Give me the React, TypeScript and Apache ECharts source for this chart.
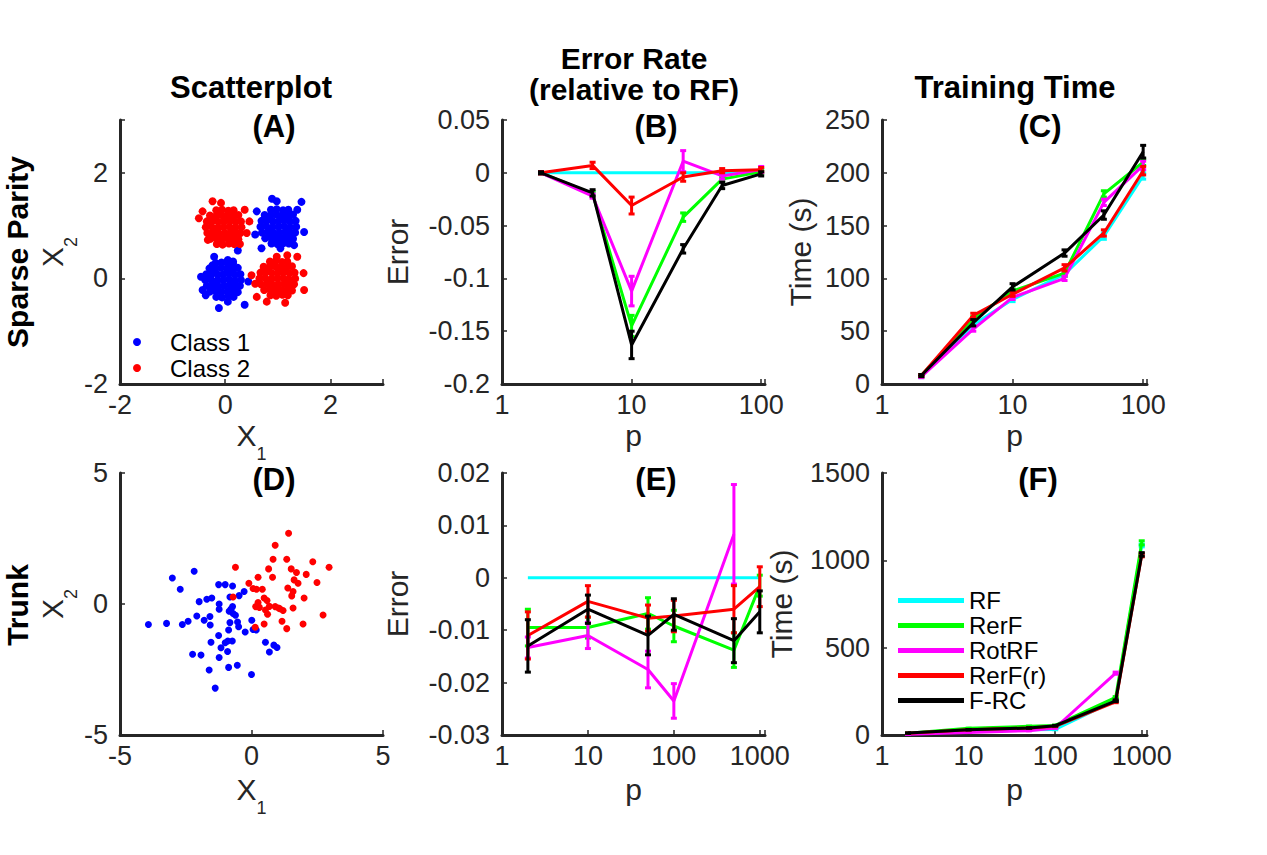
import React, { useEffect, useRef } from 'react';
import * as echarts from 'echarts';

const FONT = '"Liberation Sans", Arial, Helvetica, sans-serif';
const INK = '#262626';

// (A) sparse parity samples [X1, X2]
const parityClass1: number[][] = [
  // cluster around (1, 1)
  [0.87, 1.3], [0.98, 1.31], [1.1, 1.29], [1.2, 1.3],
  [0.75, 1.2], [0.86, 1.19], [0.97, 1.21], [1.08, 1.2], [1.19, 1.19], [1.29, 1.21],
  [0.69, 1.09], [0.8, 1.1], [0.91, 1.08], [1.02, 1.09], [1.13, 1.1], [1.24, 1.08], [1.34, 1.09],
  [0.67, 0.98], [0.78, 0.99], [0.9, 0.97], [1.01, 0.98], [1.12, 0.99], [1.23, 0.97], [1.35, 0.98],
  [0.7, 0.87], [0.81, 0.88], [0.92, 0.86], [1.03, 0.87], [1.14, 0.88], [1.25, 0.86], [1.33, 0.87],
  [0.76, 0.76], [0.87, 0.77], [0.98, 0.75], [1.09, 0.76], [1.2, 0.77], [1.29, 0.75],
  [0.88, 0.66], [0.99, 0.65], [1.11, 0.67], [1.21, 0.66],
  [0.89, 1.51], [1.45, 1.45], [0.6, 1.27], [1.37, 1.3], [1.5, 0.88], [0.57, 0.83],
  [0.69, 0.57], [1.05, 0.57], [1.31, 0.63], [0.98, 1.46],
  // cluster around (0, 0)
  [-0.18, 0.29], [-0.07, 0.3], [0.05, 0.28], [0.15, 0.29],
  [-0.3, 0.19], [-0.19, 0.18], [-0.08, 0.2], [0.03, 0.19], [0.14, 0.18], [0.24, 0.2],
  [-0.36, 0.08], [-0.25, 0.09], [-0.14, 0.07], [-0.03, 0.08], [0.08, 0.09], [0.19, 0.07], [0.29, 0.08],
  [-0.38, -0.03], [-0.27, -0.02], [-0.15, -0.04], [-0.04, -0.03], [0.07, -0.02], [0.18, -0.04], [0.3, -0.03],
  [-0.35, -0.14], [-0.24, -0.13], [-0.13, -0.15], [-0.02, -0.14], [0.09, -0.13], [0.2, -0.15], [0.28, -0.14],
  [-0.29, -0.25], [-0.18, -0.24], [-0.07, -0.26], [0.04, -0.25], [0.15, -0.24], [0.24, -0.26],
  [-0.17, -0.35], [-0.06, -0.36], [0.06, -0.34], [0.16, -0.35],
  [-0.46, 0.03], [-0.43, -0.22], [-0.37, -0.32], [-0.12, -0.56], [0.37, -0.5], [0.05, -0.44],
  [0.44, -0.06], [-0.24, 0.25], [0.15, 0.32], [-0.21, 0.41], [0.24, 0.53], [0.05, 0.35],
];
const parityClass2: number[][] = [
  // cluster around (0, 1)
  [-0.17, 1.29], [-0.06, 1.3], [0.06, 1.28], [0.16, 1.29],
  [-0.29, 1.19], [-0.18, 1.18], [-0.07, 1.2], [0.04, 1.19], [0.15, 1.18], [0.25, 1.2],
  [-0.35, 1.08], [-0.24, 1.09], [-0.13, 1.07], [-0.02, 1.08], [0.09, 1.09], [0.2, 1.07], [0.3, 1.08],
  [-0.37, 0.97], [-0.26, 0.98], [-0.14, 0.96], [-0.03, 0.97], [0.08, 0.98], [0.19, 0.96], [0.31, 0.97],
  [-0.34, 0.86], [-0.23, 0.87], [-0.12, 0.85], [-0.01, 0.86], [0.1, 0.87], [0.21, 0.85], [0.29, 0.86],
  [-0.28, 0.75], [-0.17, 0.76], [-0.06, 0.74], [0.05, 0.75], [0.16, 0.76], [0.25, 0.74],
  [-0.16, 0.65], [-0.05, 0.64], [0.07, 0.66], [0.17, 0.65],
  [-0.24, 1.46], [-0.08, 1.43], [-0.43, 1.27], [-0.5, 1.14], [0.37, 1.3], [0.46, 1.08],
  [0.41, 0.86], [-0.33, 0.73], [-0.11, 0.67], [0.15, 0.76], [0.28, 0.65],
  // cluster around (1, 0)
  [0.85, 0.32], [0.96, 0.33], [1.08, 0.31], [1.18, 0.32],
  [0.73, 0.22], [0.84, 0.21], [0.95, 0.23], [1.06, 0.22], [1.17, 0.21], [1.27, 0.23],
  [0.67, 0.11], [0.78, 0.12], [0.89, 0.1], [1.0, 0.11], [1.11, 0.12], [1.22, 0.1], [1.32, 0.11],
  [0.65, 0.0], [0.76, 0.01], [0.88, -0.01], [0.99, 0.0], [1.1, 0.01], [1.21, -0.01], [1.33, 0.0],
  [0.68, -0.11], [0.79, -0.1], [0.9, -0.12], [1.01, -0.11], [1.12, -0.1], [1.23, -0.12], [1.31, -0.11],
  [0.74, -0.22], [0.85, -0.21], [0.96, -0.23], [1.07, -0.22], [1.18, -0.21], [1.27, -0.23],
  [0.86, -0.32], [0.97, -0.33], [1.09, -0.31], [1.19, -0.32],
  [0.57, -0.1], [0.5, 0.06], [1.18, 0.44], [1.37, 0.41], [1.49, 0.1], [1.5, -0.22],
  [0.79, -0.44], [1.14, -0.46], [0.6, -0.35], [0.98, 0.41],
];

// (D) trunk samples [X1, X2]
const trunkClass1: number[][] = [
  [-3.92, -0.78], [-3.23, -0.74], [-3.01, 0.99], [-2.71, 0.56], [-2.63, -0.78], [-2.41, -0.66],
  [-2.18, 1.25], [-2.24, -1.92], [-1.92, -1.95], [-2.08, -0.46], [-1.99, 0.09], [-1.7, 0.18],
  [-1.51, 0.23], [-1.8, -0.62], [-1.58, -0.48], [-1.57, -0.8], [-1.54, -1.46], [-1.61, -2.52],
  [-1.38, -3.21], [-1.25, 0.74], [-1.0, 0.74], [-0.72, 0.69], [-1.23, 0.0], [-1.23, -0.2],
  [-1.25, -1.2], [-1.16, -1.67], [-1.23, -2.04], [-1.0, -1.48], [-0.9, -1.41], [-0.73, -1.41],
  [-0.91, -1.81], [-0.87, -2.42], [-0.54, -2.34], [0.0, -2.69], [-0.85, -0.28], [-0.78, -0.19],
  [-0.72, -0.1], [-0.61, -0.43], [-0.82, 0.27], [-0.47, 0.32], [-0.28, 0.48], [-0.53, -0.69],
  [-0.49, -0.87], [-0.87, -0.99], [-0.82, -0.71], [-0.24, -1.07], [0.01, -0.62], [0.06, -0.97],
  [0.18, -0.99], [0.53, -1.46], [0.68, -1.83], [0.85, -1.57], [0.97, -1.66], [-0.7, -0.36],
];
const trunkClass2: number[][] = [
  [1.41, 2.7], [0.9, 2.24], [0.82, 1.71], [1.34, 1.71], [-0.61, 1.4], [0.65, 1.34], [0.25, 1.02],
  [0.8, 1.02], [1.51, 1.34], [1.71, 1.2], [2.33, 1.61], [2.95, 1.4], [2.08, 1.13], [1.62, 0.92],
  [1.77, 0.79], [2.49, 0.82], [-0.1, 0.79], [0.06, 0.59], [0.19, 0.56], [0.41, 0.56], [1.38, 0.61],
  [1.58, 0.48], [1.53, 0.31], [2.0, 0.23], [0.48, 0.23], [-0.7, 0.27], [0.25, 0.06], [0.59, 0.13],
  [0.16, -0.1], [0.3, -0.13], [0.68, -0.09], [0.9, -0.1], [1.03, -0.15], [1.2, -0.25], [1.58, -0.15],
  [0.61, -0.39], [0.53, -0.23], [2.72, -0.42], [1.16, -0.66], [0.48, -0.76], [0.14, -0.89],
  [1.34, -0.94], [1.96, -0.76], [1.08, -0.18],
];

const methods = ['RF', 'RerF', 'RotRF', 'RerF(r)', 'F-RC'];
const methodColors = ['#00ffff', '#00ff00', '#ff00ff', '#ff0000', '#000000'];

// sparse parity, rows follow `methods`
const parityP = [2, 5, 10, 25, 50, 100];
const parityError = [
  [0, 0, 0, 0, 0, 0],
  [0, -0.02, -0.145, -0.042, -0.006, 0.001],
  [0, -0.022, -0.112, 0.011, -0.003, 0.003],
  [0, 0.007, -0.031, -0.004, 0.002, 0.003],
  [0, -0.019, -0.163, -0.072, -0.012, -0.001],
];
const parityErrorSem = [
  [0, 0, 0, 0, 0, 0],
  [0.001, 0.002, 0.01, 0.004, 0.002, 0.002],
  [0.001, 0.002, 0.014, 0.01, 0.003, 0.003],
  [0.001, 0.003, 0.008, 0.004, 0.002, 0.002],
  [0.001, 0.003, 0.013, 0.004, 0.003, 0.002],
];
const parityTime = [
  [7, 56, 80, 104, 140, 197],
  [8, 62, 88, 105, 180, 210],
  [7, 52, 82, 100, 172, 207],
  [8, 65, 85, 110, 143, 202],
  [8, 58, 92, 124, 160, 220],
];
const parityTimeSem = [
  [1, 2, 2, 2, 3, 3],
  [1, 2, 2, 3, 3, 3],
  [1, 2, 2, 2, 3, 4],
  [1, 2, 2, 3, 3, 4],
  [1, 3, 3, 3, 4, 6],
];

// trunk, rows follow `methods`
const trunkP = [2, 10, 50, 100, 500, 1000];
const trunkError = [
  [0, 0, 0, 0, 0, 0],
  [-0.0095, -0.0095, -0.0068, -0.0092, -0.0138, -0.0015],
  [-0.0133, -0.011, -0.0175, -0.0235, 0.0083, null],
  [-0.011, -0.0045, -0.0077, -0.0073, -0.006, -0.0017],
  [-0.013, -0.006, -0.011, -0.007, -0.012, -0.0065],
];
const trunkErrorSem = [
  [0, 0, 0, 0, 0, 0],
  [0.0035, 0.002, 0.003, 0.003, 0.0033, 0.002],
  [0.002, 0.0025, 0.0035, 0.0033, 0.0095, null],
  [0.0045, 0.003, 0.0025, 0.003, 0.0045, 0.0038],
  [0.005, 0.0027, 0.0037, 0.003, 0.0042, 0.004],
];
const trunkTime = [
  [8, 20, 30, 32, 200, 1085],
  [10, 38, 50, 55, 215, 1100],
  [5, 15, 25, 40, 354, null],
  [10, 30, 40, 50, 190, 1030],
  [11, 30, 40, 53, 196, 1034],
];
const trunkTimeSem = [
  [1, 1, 1, 2, 4, 8],
  [1, 1, 1, 2, 5, 12],
  [1, 1, 1, 2, 6, null],
  [1, 1, 1, 2, 5, 10],
  [1, 1, 1, 2, 5, 10],
];

const grids = [
  { left: 120, top: 120, width: 263, height: 264 },
  { left: 502, top: 120, width: 263, height: 264 },
  { left: 882, top: 120, width: 265, height: 264 },
  { left: 120, top: 473, width: 263, height: 262 },
  { left: 502, top: 473, width: 263, height: 262 },
  { left: 882, top: 473, width: 265, height: 262 },
];

const subRich = {
  m: { fontFamily: FONT, fontSize: 30, lineHeight: 30, color: INK, verticalAlign: 'top' },
  s: { fontFamily: FONT, fontSize: 18, lineHeight: 18, color: INK, verticalAlign: 'top', padding: [25, 0, 0, 0] },
};

const axisBase = (gridIndex: number) => ({
  gridIndex,
  axisLine: { onZero: false, lineStyle: { color: INK, width: 3 } },
  axisTick: { inside: true, length: 5, lineStyle: { color: INK, width: 1.5 } },
  splitLine: { show: false },
  nameLocation: 'middle',
});

const labelStyle = { fontFamily: FONT, fontSize: 27, color: INK };

const isDecade = (v: number) => {
  const l = Math.log10(v);
  return Math.abs(l - Math.round(l)) < 1e-6;
};

const logX = (gridIndex: number, max: number, gap: number) => ({
  ...axisBase(gridIndex),
  type: 'log',
  logBase: 10,
  min: 1,
  max,
  name: 'p',
  nameGap: gap,
  nameTextStyle: { fontFamily: FONT, fontSize: 30, lineHeight: 30, color: INK },
  axisLabel: {
    ...labelStyle,
    margin: 7,
    formatter: (v: number) => (isDecade(v) ? String(Math.round(v)) : ''),
  },
});

// hideMax: the axis end is not a labelled tick in the reference
const valueAxis = (
  gridIndex: number,
  min: number,
  max: number,
  interval: number,
  extra: Record<string, unknown>,
  margin: number,
  hideMax = false,
) => ({
  ...axisBase(gridIndex),
  type: 'value',
  min,
  max,
  interval,
  axisLabel: {
    ...labelStyle,
    margin,
    formatter: (v: number) => (hideMax && Math.abs(v - max) < 1e-9 ? '' : String(+v.toFixed(4))),
  },
  ...extra,
});

const plainName = (name: string, gap: number) => ({
  name,
  nameGap: gap,
  nameTextStyle: { fontFamily: FONT, fontSize: 30, lineHeight: 30, color: INK },
});

const subName = (sub: string, gap: number) => ({
  name: `{m|X}{s|${sub}}`,
  nameGap: gap,
  nameTextStyle: { rich: subRich },
});

const lineSeries = (axis: number, p: number[], rows: (number | null)[][]) =>
  rows.map((row, k) => ({
    type: 'line',
    name: methods[k],
    xAxisIndex: axis,
    yAxisIndex: axis,
    symbol: 'none',
    lineStyle: { color: methodColors[k], width: 3 },
    itemStyle: { color: methodColors[k] },
    data: p.map((x, i) => [x, row[i]]).filter((d) => d[1] !== null),
    z: 2 + k,
  }));

const errorSeries = (
  axis: number,
  p: number[],
  rows: (number | null)[][],
  sems: (number | null)[][],
) =>
  rows.map((row, k) => ({
    type: 'custom',
    name: methods[k] + ' sem',
    xAxisIndex: axis,
    yAxisIndex: axis,
    silent: true,
    z: 2 + k,
    encode: { x: 0, y: 1 },
    data: p
      .map((x, i) => [x, row[i], sems[k][i]])
      .filter((d) => d[1] !== null && (d[2] as number) > 0),
    renderItem: (_params: unknown, api: any) => {
      const x = api.value(0);
      const m = api.value(1);
      const e = api.value(2);
      const hi = api.coord([x, m + e]);
      const lo = api.coord([x, m - e]);
      const style = { stroke: methodColors[k], lineWidth: 3 };
      return {
        type: 'group',
        children: [
          { type: 'line', shape: { x1: hi[0], y1: hi[1], x2: lo[0], y2: lo[1] }, style },
          { type: 'line', shape: { x1: hi[0] - 3, y1: hi[1], x2: hi[0] + 3, y2: hi[1] }, style },
          { type: 'line', shape: { x1: lo[0] - 3, y1: lo[1], x2: lo[0] + 3, y2: lo[1] }, style },
        ],
      };
    },
  }));

const scatter = (axis: number, name: string, color: string, data: number[][], size: number) => ({
  type: 'scatter',
  name,
  xAxisIndex: axis,
  yAxisIndex: axis,
  symbol: 'circle',
  symbolSize: size,
  itemStyle: { color, opacity: 1 },
  data,
});

const text = (
  label: string,
  x: number,
  y: number,
  size: number,
  rotation = 0,
  lineHeight?: number,
) => ({
  type: 'text',
  x,
  y,
  rotation,
  style: {
    text: label,
    fontFamily: FONT,
    fontSize: size,
    fontWeight: 'bold',
    fill: '#000',
    align: 'center',
    verticalAlign: 'middle',
    ...(lineHeight ? { lineHeight } : {}),
  },
});

const App: React.FC = () => {
  const chartRef = useRef<HTMLDivElement>(null);

  useEffect(() => {
    document.body.style.margin = '0';
    if (!chartRef.current) return;
    const chart = echarts.init(chartRef.current, undefined, { renderer: 'svg' });

    const option: any = {
      animation: false,
      backgroundColor: '#ffffff',
      grid: grids.map((g) => ({ ...g, containLabel: false, outerBoundsMode: 'none' })),
      xAxis: [
        valueAxis(0, -2, 3, 2, subName('1', 36), 7, true),
        logX(1, 107, 36),
        logX(2, 107, 36),
        valueAxis(3, -5, 5, 5, subName('1', 39), 7),
        logX(4, 1150, 39),
        logX(5, 1150, 39),
      ],
      yAxis: [
        valueAxis(0, -2, 3, 2, subName('2', 45), 12, true),
        valueAxis(1, -0.2, 0.05, 0.05, plainName('Error', 90), 12),
        valueAxis(2, 0, 250, 50, plainName('Time (s)', 67), 12),
        valueAxis(3, -5, 5, 5, subName('2', 45), 12),
        valueAxis(4, -0.03, 0.02, 0.01, plainName('Error', 90), 12),
        valueAxis(5, 0, 1500, 500, plainName('Time (s)', 86), 12),
      ],
      legend: [
        {
          data: ['Class 1', 'Class 2'],
          orient: 'vertical',
          left: 128,
          top: 324,
          icon: 'circle',
          itemWidth: 8,
          itemHeight: 8,
          itemGap: 0,
          selectedMode: false,
          textStyle: {
            fontFamily: FONT,
            fontSize: 24,
            lineHeight: 26,
            color: '#000',
            padding: [0, 0, 0, 24],
          },
        },
        {
          data: methods,
          orient: 'vertical',
          left: 893,
          top: 583,
          icon: 'rect',
          itemWidth: 66,
          itemHeight: 5,
          itemGap: 0,
          selectedMode: false,
          textStyle: { fontFamily: FONT, fontSize: 24, lineHeight: 25, color: '#000' },
        },
      ],
      series: [
        scatter(0, 'Class 1', '#0000ff', parityClass1, 8),
        scatter(0, 'Class 2', '#ff0000', parityClass2, 8),
        ...lineSeries(1, parityP, parityError),
        ...errorSeries(1, parityP, parityError, parityErrorSem),
        ...lineSeries(2, parityP, parityTime),
        ...errorSeries(2, parityP, parityTime, parityTimeSem),
        scatter(3, 'Class 1', '#0000ff', trunkClass1, 7),
        scatter(3, 'Class 2', '#ff0000', trunkClass2, 7),
        ...lineSeries(4, trunkP, trunkError),
        ...errorSeries(4, trunkP, trunkError, trunkErrorSem),
        ...lineSeries(5, trunkP, trunkTime),
        ...errorSeries(5, trunkP, trunkTime, trunkTimeSem),
      ],
      graphic: [
        text('Scatterplot', 251, 87, 31),
        text('Error Rate\n(relative to RF)', 634, 74, 30, 0, 31),
        text('Training Time', 1015, 87, 31),
        text('(A)', 274, 126, 31),
        text('(B)', 656, 126, 31),
        text('(C)', 1040, 126, 31),
        text('(D)', 274, 479, 31),
        text('(E)', 656, 479, 31),
        text('(F)', 1038, 479, 31),
        text('Sparse Parity', 17, 252, 30, Math.PI / 2),
        text('Trunk', 17, 605, 30, Math.PI / 2),
      ],
    };

    chart.setOption(option);

    return () => {
      chart.dispose();
    };
  }, []);

  return <div ref={chartRef} style={{ width: '1267px', height: '855px' }} />;
};

export default App;
